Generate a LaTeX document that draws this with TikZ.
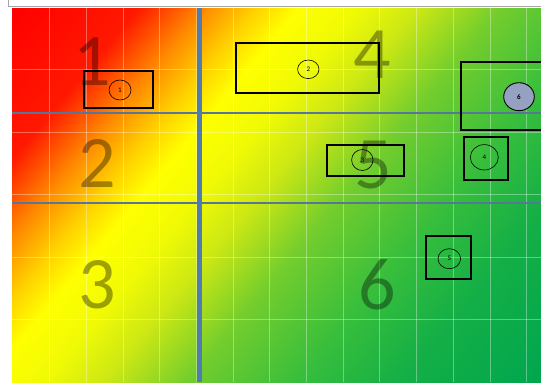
\documentclass[tikz,border=0pt]{standalone}
\usepackage{fontspec}
\setmainfont{Carlito}
\usetikzlibrary{shapes.geometric}
\definecolor{h0}{RGB}{255,0,0}
\definecolor{h1}{RGB}{255,25,0}
\definecolor{h2}{RGB}{255,140,0}
\definecolor{h3}{RGB}{255,210,0}
\definecolor{h4}{RGB}{255,255,0}
\definecolor{h4b}{RGB}{240,250,5}
\definecolor{h5}{RGB}{205,232,20}
\definecolor{h6}{RGB}{115,205,45}
\definecolor{h7}{RGB}{55,190,60}
\definecolor{h8}{RGB}{20,175,70}
\definecolor{h9}{RGB}{0,166,78}
\definecolor{sepblue}{RGB}{80,124,176}
\definecolor{sepgray}{RGB}{88,118,152}
\definecolor{tagfill}{RGB}{150,160,192}
\pgfdeclarehorizontalshading{heat}{100bp}{color(0bp)=(h0); color(25bp)=(h0); color(32.5bp)=(h1); color(36.5bp)=(h2); color(39.5bp)=(h3); color(42bp)=(h4); color(45.5bp)=(h4b); color(49bp)=(h5); color(54bp)=(h6); color(60.5bp)=(h7); color(66.5bp)=(h8); color(75bp)=(h9); color(100bp)=(h9)}
\begin{document}
\begin{tikzpicture}[x=1pt,y=-1pt,
  box/.style={draw=black,line width=1.8pt,inner sep=0pt,fill=none},
  tag/.style={draw=black,line width=0.6pt,ellipse,inner sep=0pt,font=\fontsize{7}{7}\selectfont},
  big/.style={inner sep=0pt,text=black,text opacity=0.36,font=\fontsize{74}{74}\selectfont},
  grid/.style={white,opacity=0.35,line width=0.7pt}]
\useasboundingbox (0,0) rectangle (541,386);
\fill[white] (0,0) rectangle (541,386);
% top strip
\draw[gray!70,fill=white,line width=0.6pt] (8,-10) rectangle (560,6);
% heat map
\begin{scope}
\clip (12,8) rectangle (541,382);
\begin{scope}[transform canvas={shift={(12pt,-8pt)},rotate=-40}]
\shade[shading=heat] (0pt,-300pt) rectangle (646pt,350pt);
\end{scope}
\foreach \k in {1,...,14} \draw[grid] (12.8+36.7*\k,8) -- (12.8+36.7*\k,382);
\foreach \k in {1,...,5} \draw[grid] (12,7+62.5*\k) -- (541,7+62.5*\k);
\end{scope}
% separators
\coordinate (vt) at (199.5,8); \coordinate (vb) at (199.5,382);
\coordinate (h1l) at (12,113); \coordinate (h1r) at (541,113);
\coordinate (h2l) at (12,203); \coordinate (h2r) at (541,203);
\draw[sepgray,line width=2pt] (h1l) -- (h1r);
\draw[sepgray,line width=2pt] (h2l) -- (h2r);
\draw[sepblue,line width=5pt] (vt) -- (vb);
% boxes
\node[box,minimum width=69.3pt,minimum height=37.6pt] (b1) at (118.7,89.5) {};
\node[box,minimum width=143.6pt,minimum height=50.6pt] (b2) at (307.5,68) {};
\node[box,minimum width=120pt,minimum height=67.7pt] (b3) at (520.7,96.2) {};
\node[box,minimum width=44.3pt,minimum height=42.7pt] (b4) at (486.2,158.7) {};
\node[box,minimum width=76.7pt,minimum height=30.7pt] (b5) at (365.7,160.4) {};
\node[box,minimum width=44.7pt,minimum height=43.6pt] (b6) at (448.4,257.5) {};
% tags
\node[tag,minimum width=22pt,minimum height=20pt] (e1) at (120,90) {1};
\node[tag,minimum width=21.4pt,minimum height=18.6pt] (e2) at (308.3,69.3) {2};
\node[tag,minimum width=21.4pt,minimum height=21pt] (e3) at (362.3,160) {3};
\node[tag,minimum width=28pt,minimum height=25.4pt] (e4) at (484.3,157.3) {4};
\node[tag,minimum width=22.6pt,minimum height=20pt] (e5) at (449.3,258.7) {5};
\node[tag,line width=0.9pt,fill=tagfill,minimum width=30.6pt,minimum height=28pt,font=\fontsize{7}{7}\selectfont\bfseries] (e6) at (519,96.7) {6};
% big numbers
\node[big] (n1) at (92,62) {1};
\node[big] (n2) at (97,163) {2};
\node[big] (n3) at (97,285) {3};
\node[big] (n4) at (372,55) {4};
\node[big] (n5) at (373,165) {5};
\node[big] (n6) at (377,285) {6};
\end{tikzpicture}
\end{document}
